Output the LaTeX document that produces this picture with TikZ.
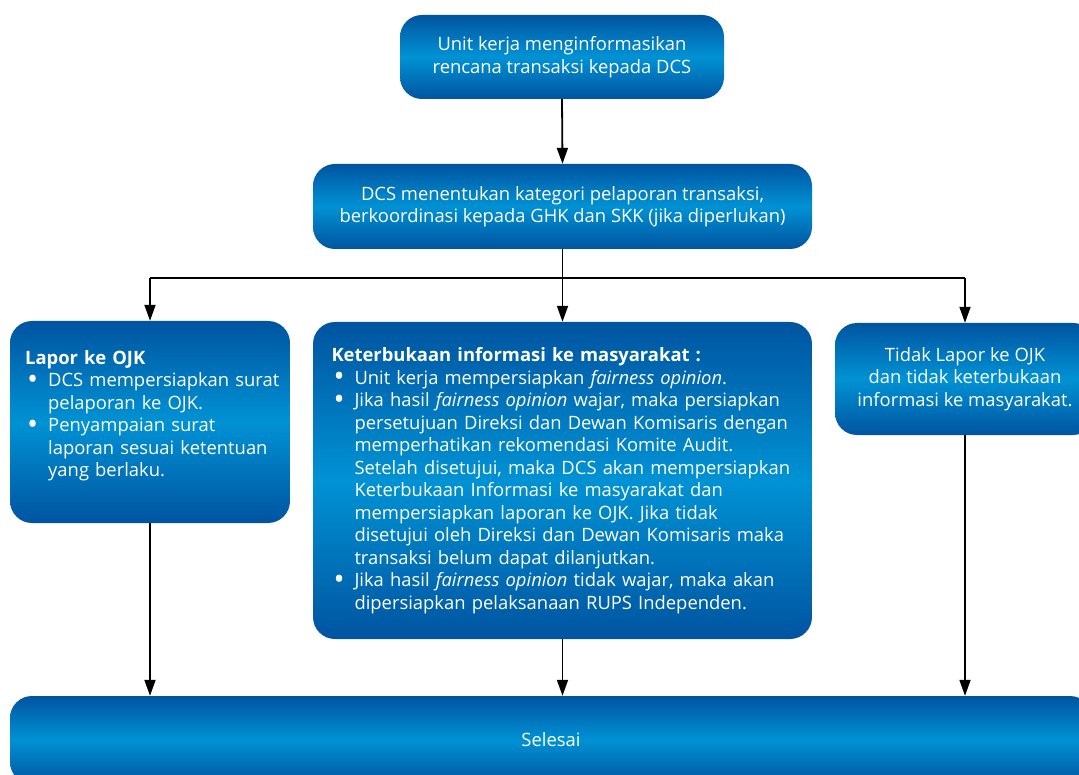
\documentclass[tikz,border=0pt]{standalone}
\usepackage{fontspec}
\setmainfont{Open Sans}
\usetikzlibrary{arrows.meta}

\definecolor{bluedark}{RGB}{0,84,160}
\definecolor{bluelight}{RGB}{0,146,212}

\tikzset{
  box/.style={rectangle, rounded corners=22pt, inner sep=0pt, top color=bluedark, bottom color=bluedark, middle color=bluelight, text=white, align=center, font=\fontsize{18.4pt}{22.5pt}\selectfont},
  txt/.style={inner sep=0pt, text=white, align=left, font=\fontsize{18.4pt}{22.5pt}\selectfont},
  conn/.style={line width=1.8pt},
  arr/.style={conn, -{Triangle[length=16pt,width=11pt]}}
}
\newcommand{\itm}[1]{\par\noindent\hangindent=23pt\hangafter=1\makebox[23pt][l]{\hspace{2pt}\smash{\raisebox{-2.5pt}{\scalebox{1.6}{\textbullet}}}}#1\par}

\begin{document}
\begin{tikzpicture}[x=1pt, y=-1pt]
\useasboundingbox (0,0) rectangle (1079,775);
\clip (0,0) rectangle (1079,775);

\coordinate (sL) at (150,278);
\coordinate (sR) at (965,278);

\node[box, minimum width=324pt, minimum height=84pt] (unit) at (562,57) {Unit kerja menginformasikan\\rencana transaksi kepada DCS};
\node[box, minimum width=499pt, minimum height=85pt] (dcs) at (562.5,206.5) {DCS menentukan kategori pelaporan transaksi,\\berkoordinasi kepada GHK dan SKK (jika diperlukan)};
\node[box, minimum width=280pt, minimum height=202pt] (lapor) at (150,422) {};
\node[box, minimum width=499pt, minimum height=317pt, text width=462pt, align=left] (buka) at (562.5,480.5) {%
\textbf{Keterbukaan informasi ke masyarakat :}
\itm{Unit kerja mempersiapkan \textit{fairness opinion}.}
\itm{Jika hasil \textit{fairness opinion} wajar, maka persiapkan\newline persetujuan Direksi dan Dewan Komisaris dengan\newline memperhatikan rekomendasi Komite Audit.\newline Setelah disetujui, maka DCS akan mempersiapkan\newline Keterbukaan Informasi ke masyarakat dan\newline mempersiapkan laporan ke OJK. Jika tidak\newline disetujui oleh Direksi dan Dewan Komisaris maka\newline transaksi belum dapat dilanjutkan.}
\itm{Jika hasil \textit{fairness opinion} tidak wajar, maka akan\newline dipersiapkan pelaksanaan RUPS Independen.}};
\node[box, minimum width=260pt, minimum height=112pt] (tidak) at (965,379) {Tidak Lapor ke OJK\\dan tidak keterbukaan\\informasi ke masyarakat.};
\node[box, minimum width=1082pt, minimum height=88pt] (selesai) at (551,740) {Selesai};

\node[txt, text width=262pt, anchor=north west] (laporteks) at (25,350) {%
\textbf{Lapor ke OJK}
\itm{DCS mempersiapkan surat\newline pelaporan ke OJK.}
\itm{Penyampaian surat\newline laporan sesuai ketentuan\newline yang berlaku.}};

\draw[arr] (unit.south) -- (dcs.north);
\draw[arr] (dcs.south) -- (buka.north);
\draw[conn] (sL) -- (sR);
\draw[arr] (sL) -- (lapor.north);
\draw[arr] (sR) -- (tidak.north);
\draw[arr] (lapor.south) -- (lapor.south |- selesai.north);
\draw[arr] (buka.south) -- (buka.south |- selesai.north);
\draw[arr] (tidak.south) -- (tidak.south |- selesai.north);
\end{tikzpicture}
\end{document}
